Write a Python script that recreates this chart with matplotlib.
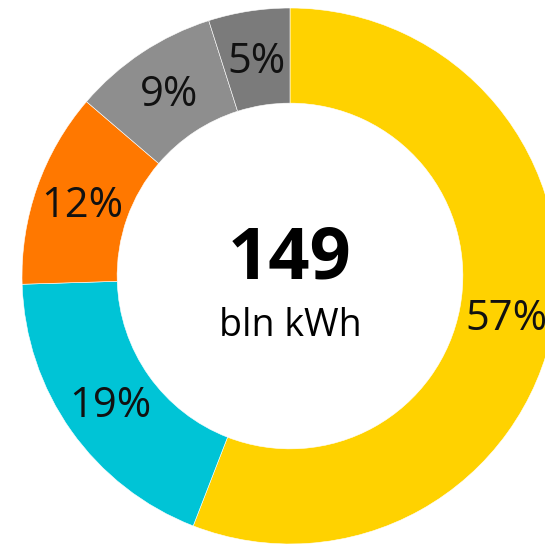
import numpy as np
import matplotlib.pyplot as plt

plt.rcParams['font.family'] = ['Open Sans', 'DejaVu Sans']

sources = ['A', 'B', 'C', 'D', 'E']
shares = [57, 19, 12, 9, 5]
share_labels = ['57%', '19%', '12%', '9%', '5%']
colors = ['#FFD200', '#00C4D6', '#FF7800', '#8E8E8E', '#7B7B7B']
total = '149'
unit = 'bln kWh'


def main():
    fig = plt.figure(figsize=(5.45, 5.45), dpi=100)
    ax = fig.add_axes([0, 0, 1, 1])

    wedges, _ = ax.pie(shares, colors=colors, startangle=90, counterclock=False,
                       radius=1.0, wedgeprops=dict(width=0.355, edgecolor='white', linewidth=0.4))

    # etiquetas en el centro del anillo
    for w, lab in zip(wedges, share_labels):
        ang = np.deg2rad((w.theta1 + w.theta2) / 2)
        r = 0.82
        ax.text(r * np.cos(ang), r * np.sin(ang) - 0.01, lab, ha='center', va='center',
                fontsize=30, color='#111111')

    ax.text(0, 0.06, total, ha='center', va='center', fontsize=52, fontweight='bold')
    ax.text(0, -0.185, unit, ha='center', va='center', fontsize=27)

    # el anillo queda recortado a la derecha como en el original
    R = 268.0
    ax.set_xlim(-290 / R, (545 - 290) / R)
    ax.set_ylim(-(545 - 276) / R, 276 / R)
    ax.set_aspect('equal')
    ax.axis('off')

    fig.savefig('out.png', dpi=100)


if __name__ == "__main__":
    main()
